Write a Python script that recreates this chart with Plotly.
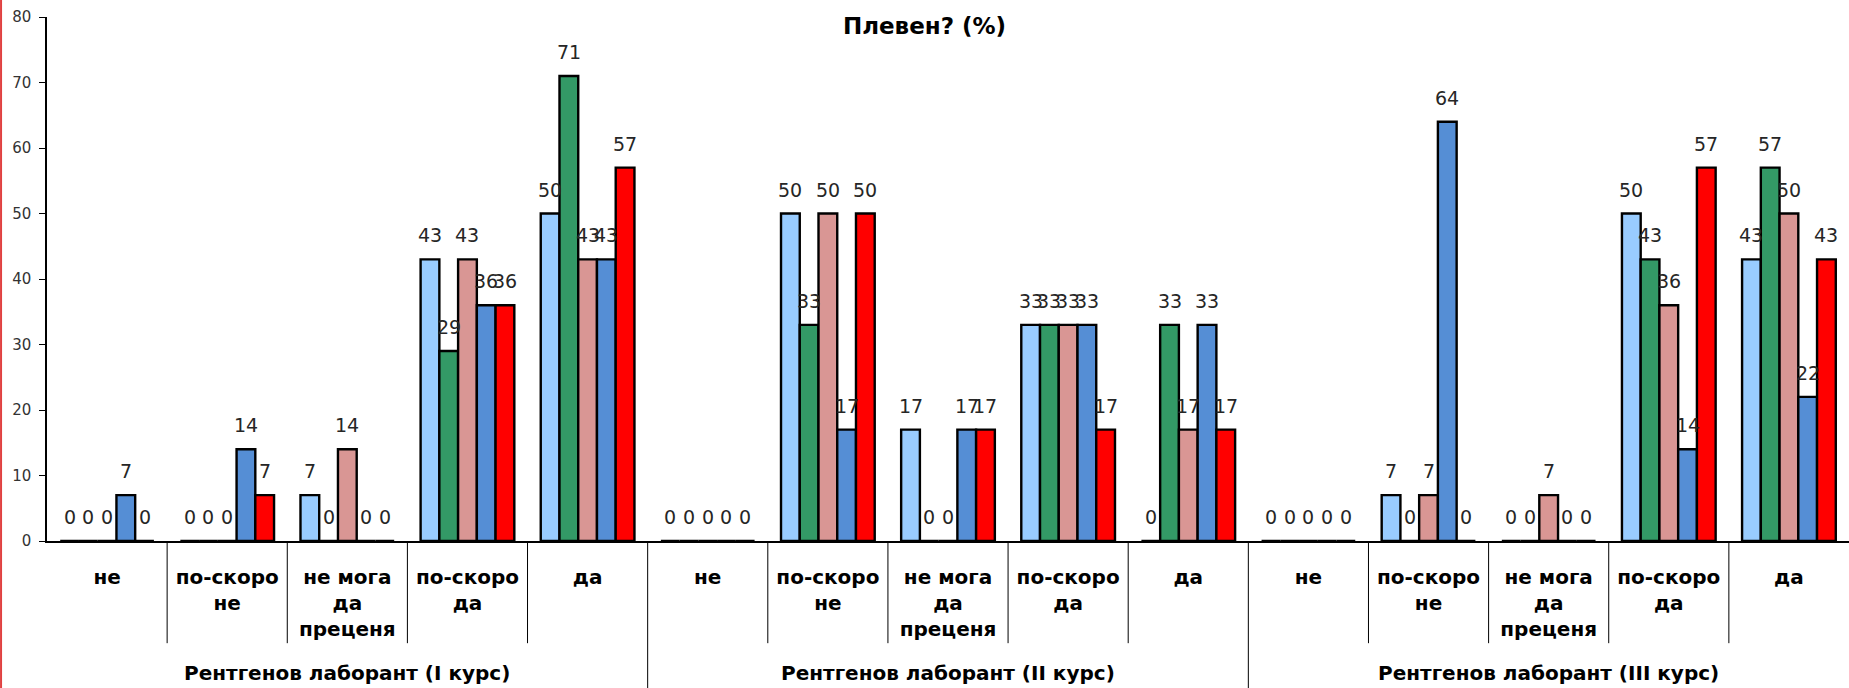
import plotly.graph_objects as go

groups = ["Рентгенов лаборант (I курс)", "Рентгенов лаборант (II курс)", "Рентгенов лаборант (III курс)"]
answers = ["не", "по-скоро<br>не", "не мога<br>да<br>преценя", "по-скоро<br>да", "да"]

series_names = ["Серия 1", "Серия 2", "Серия 3", "Серия 4", "Серия 5"]
series_colors = ["#99CCFF", "#339966", "#D99694", "#558ED5", "#FF0000"]

# values per series, 15 categories (3 groups x 5 answers)
s1 = [0, 0, 7, 43, 50,   0, 50, 17, 33, 0,   0, 7, 0, 50, 43]
s2 = [0, 0, 0, 29, 71,   0, 33, 0, 33, 33,   0, 0, 0, 43, 57]
s3 = [0, 0, 14, 43, 43,  0, 50, 0, 33, 17,   0, 7, 7, 36, 50]
s4 = [7, 14, 0, 36, 43,  0, 17, 17, 33, 33,  0, 64, 0, 14, 22]
s5 = [0, 7, 0, 36, 57,   0, 50, 17, 17, 17,  0, 0, 0, 57, 43]
series_values = [s1, s2, s3, s4, s5]

title_text = "Плевен? (%)"
y_ticks = [0, 10, 20, 30, 40, 50, 60, 70, 80]

FONT = "DejaVu Sans"
W, H = 1849, 688
M_L, M_R, M_T, M_B = 47, 0, 17, 147
BARGAP = 0.22

n_cat = len(groups) * len(answers)
n_ser = len(series_values)
x_pos = [i + 0.5 for i in range(n_cat)]
tick_text = answers * len(groups)

# pixel width of one bar (for placing value labels over grouped bars)
bar_px = (W - M_L - M_R) / n_cat * (1 - BARGAP) / n_ser

fig = go.Figure()
annotations = []
for j, (name, color, vals) in enumerate(zip(series_names, series_colors, series_values)):
    fig.add_trace(go.Bar(
        x=x_pos, y=vals, name=name,
        marker=dict(color=color, line=dict(color="#000000", width=2.4)),
    ))
    for xv, yv in zip(x_pos, vals):
        annotations.append(dict(
            x=xv, y=yv, xref="x", yref="y", text=str(yv), showarrow=False,
            xshift=(j - (n_ser - 1) / 2) * bar_px, yshift=24, yanchor="middle",
            font=dict(family=FONT, size=19, color="#262626"),
        ))

shapes = []
# separators under the axis
for k in range(1, n_cat):
    is_group = (k % len(answers) == 0)
    shapes.append(dict(type="line", xref="x", yref="paper",
                       x0=k, x1=k, y0=0, y1=-0.30 if is_group else -0.195,
                       line=dict(color="#000000", width=1)))
# red border at the left edge
shapes.append(dict(type="line", xref="paper", yref="paper", x0=-0.0255, x1=-0.0255,
                   y0=-0.3, y1=1.05, line=dict(color="#E04040", width=2)))

for gi, g in enumerate(groups):
    annotations.append(dict(
        x=gi * len(answers) + len(answers) / 2, y=-0.252, xref="x", yref="paper",
        text="<b>" + g + "</b>", showarrow=False, yanchor="middle",
        font=dict(family=FONT, size=20, color="#000000"),
    ))

fig.update_layout(
    width=W, height=H,
    margin=dict(l=M_L, r=M_R, t=M_T, b=M_B),
    paper_bgcolor="white", plot_bgcolor="white",
    barmode="group", bargap=BARGAP, bargroupgap=0,
    showlegend=False,
    title=dict(text="<b>" + title_text + "</b>", x=0.5, xanchor="center",
               y=0.962, yanchor="middle", yref="container",
               font=dict(family=FONT, size=23, color="#000000")),
    shapes=shapes, annotations=annotations,
    font=dict(family=FONT),
)
fig.update_xaxes(
    range=[0, n_cat], tickmode="array", tickvals=x_pos, ticktext=["<b>" + t + "</b>" for t in tick_text],
    tickfont=dict(family=FONT, size=20, color="#000000"),
    showline=True, linecolor="#000000", linewidth=1.5, ticks="", showgrid=False,
    zeroline=False, ticklabelstandoff=17,
)
fig.update_yaxes(
    range=[0, 80], tickmode="array", tickvals=y_ticks,
    tickfont=dict(family=FONT, size=15, color="#333333"),
    showline=True, linecolor="#000000", linewidth=1.5, ticks="outside", ticklen=6,
    tickcolor="#000000", showgrid=False, zeroline=False, ticklabelstandoff=5,
)

fig.write_html("out.html", config={"displayModeBar": False},
               post_script="document.body.style.margin='0';document.body.style.overflow='hidden';")
